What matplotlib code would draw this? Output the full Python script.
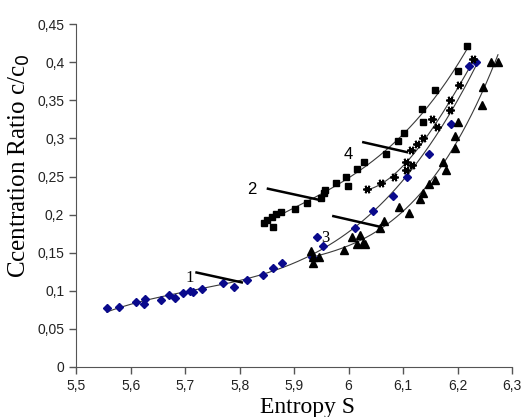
"""Concentration ratio against entropy for four test series."""
import matplotlib
matplotlib.use("Agg")
import matplotlib.pyplot as plt
import numpy as np
from matplotlib.ticker import FuncFormatter, MultipleLocator

# series 1 - blue diamonds
s1_x = [5.556, 5.579, 5.610, 5.627, 5.625, 5.655, 5.671, 5.682, 5.696, 5.709,
        5.715, 5.731, 5.769, 5.790, 5.813, 5.843, 5.861, 5.878, 5.933, 5.953,
        5.942, 6.012, 6.045, 6.082, 6.107, 6.148, 6.188, 6.221, 6.234]
s1_y = [0.078, 0.079, 0.085, 0.089, 0.083, 0.088, 0.095, 0.091, 0.097, 0.100,
        0.098, 0.102, 0.110, 0.105, 0.114, 0.121, 0.130, 0.136, 0.144, 0.159,
        0.171, 0.182, 0.205, 0.224, 0.249, 0.280, 0.319, 0.395, 0.400]

# series 2 - squares
s2_x = [5.844, 5.850, 5.859, 5.861, 5.867, 5.876, 5.902, 5.923, 5.950, 5.954,
        5.956, 5.976, 5.998, 5.995, 6.016, 6.028, 6.069, 6.090, 6.101, 6.136,
        6.135, 6.158, 6.200, 6.217]
s2_y = [0.189, 0.193, 0.197, 0.184, 0.201, 0.203, 0.208, 0.215, 0.222, 0.229,
        0.232, 0.242, 0.237, 0.250, 0.260, 0.269, 0.280, 0.297, 0.307, 0.321,
        0.339, 0.364, 0.388, 0.422]

# series 3 - triangles
s3_x = [5.931, 5.935, 5.934, 5.946, 5.992, 6.006, 6.020, 6.026, 6.015, 6.030,
        6.058, 6.064, 6.092, 6.111, 6.131, 6.137, 6.148, 6.159, 6.174, 6.179,
        6.195, 6.195, 6.200, 6.244, 6.246, 6.261, 6.274]
s3_y = [0.152, 0.144, 0.136, 0.145, 0.154, 0.170, 0.173, 0.163, 0.162, 0.162,
        0.183, 0.191, 0.210, 0.202, 0.220, 0.228, 0.240, 0.246, 0.269, 0.259,
        0.287, 0.303, 0.321, 0.344, 0.367, 0.400, 0.400]

# series 4 - stars
s4_x = [6.033, 6.059, 6.083, 6.105, 6.116, 6.105, 6.114, 6.125, 6.137, 6.153,
        6.162, 6.186, 6.186, 6.202, 6.229]
s4_y = [0.233, 0.242, 0.249, 0.258, 0.265, 0.269, 0.285, 0.293, 0.300, 0.325,
        0.315, 0.337, 0.351, 0.370, 0.404]

# curve labels: text position, pointer start, pointer end
labels = ["1", "2", "3", "4"]
label_text_xy = [(5.709, 0.117), (5.822, 0.233), (5.958, 0.169), (6.000, 0.279)]
label_line_from = [(5.721, 0.124), (5.852, 0.234), (5.972, 0.198), (6.027, 0.295)]
label_line_to = [(5.804, 0.111), (5.942, 0.220), (6.058, 0.184), (6.107, 0.282)]
label_family = ["Liberation Serif", "Liberation Sans", "Liberation Serif", "Liberation Sans"]


def comma(v, _pos):
    return f"{v:g}".replace(".", ",")


def trend(ax, xs, ys, deg=3):
    xs = np.asarray(xs)
    coef = np.polyfit(xs, ys, deg)
    grid = np.linspace(xs.min(), xs.max(), 200)
    ax.plot(grid, np.polyval(coef, grid), color="#3a3a3a", lw=0.8, zorder=2)


fig = plt.figure(figsize=(5.21, 4.17), dpi=100)
ax = fig.add_axes([0.146, 0.12, 0.837, 0.822])

for xs, ys in [(s1_x, s1_y), (s2_x, s2_y), (s3_x, s3_y), (s4_x, s4_y)]:
    trend(ax, xs, ys)

ax.plot(s1_x, s1_y, "D", color="#0a0a8c", ms=4.2, ls="none", zorder=3)
ax.plot(s2_x, s2_y, "s", color="black", ms=4.5, ls="none", zorder=3)
ax.plot(s3_x, s3_y, "^", color="black", ms=5.5, ls="none", zorder=3)
ax.plot(s4_x, s4_y, marker=(6, 2, 90), color="black", ms=6, mew=1.3,
        ls="none", zorder=3)

for lab, txy, p0, p1, fam in zip(labels, label_text_xy, label_line_from,
                                  label_line_to, label_family):
    ax.plot([p0[0], p1[0]], [p0[1], p1[1]], color="black", lw=1.8, zorder=4)
    ax.text(txy[0], txy[1], lab, ha="center", va="center", fontsize=12,
            family=fam, zorder=5)

ax.set_xlim(5.5, 6.3)
ax.set_ylim(0, 0.45)
ax.xaxis.set_major_locator(MultipleLocator(0.1))
ax.yaxis.set_major_locator(MultipleLocator(0.05))
ax.xaxis.set_major_formatter(FuncFormatter(comma))
ax.yaxis.set_major_formatter(FuncFormatter(comma))
ax.spines["top"].set_visible(False)
ax.spines["right"].set_visible(False)
for side in ("left", "bottom"):
    ax.spines[side].set_color("#555555")
ax.tick_params(direction="out", length=5, width=1, color="#555555",
               labelsize=10, labelcolor="#222222")
for t in ax.get_xticklabels() + ax.get_yticklabels():
    t.set_family("Liberation Sans")

ax.set_xlabel("Entropy S", family="Liberation Serif", fontsize=17)
ax.set_ylabel("Ccentration Ratio c/c$_0$", family="Liberation Serif",
              fontsize=18)
ax.xaxis.set_label_coords(0.53, -0.088)
ax.yaxis.set_label_coords(-0.101, 0.586)

fig.savefig("out.png", dpi=100, facecolor="white")
